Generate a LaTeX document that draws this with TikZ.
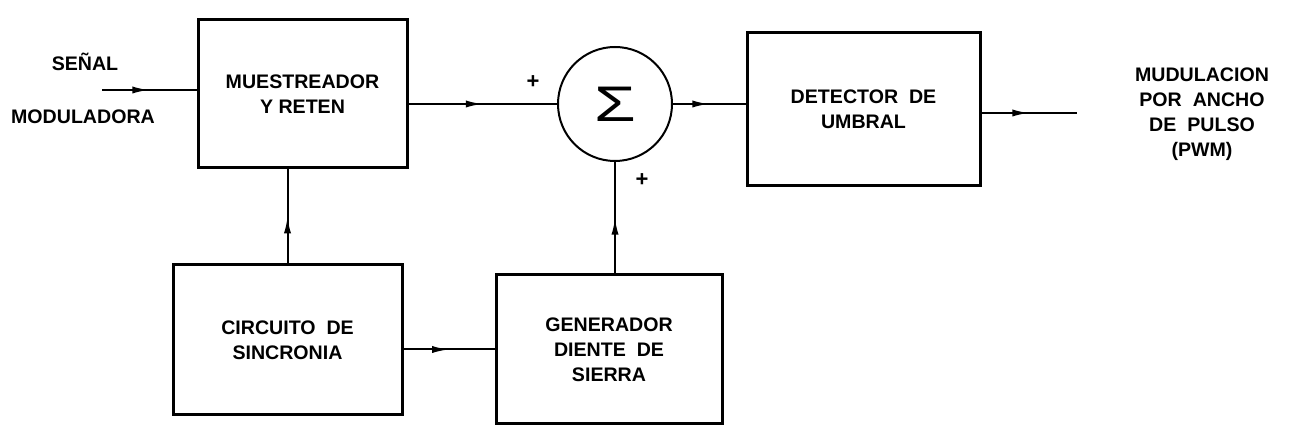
\documentclass[tikz,border=0pt]{standalone}
\usepackage{fontspec}
\setmainfont{Liberation Sans}
\usetikzlibrary{arrows.meta,decorations.markings}

\begin{document}
\begin{tikzpicture}[x=0.5pt, y=-0.5pt,
    bloque/.style={draw, line width=1.5pt, align=center, inner sep=0pt, font=\fontsize{9.8}{12.5}\selectfont\bfseries},
    flecha/.style={line width=1pt, postaction={decorate},
      decoration={markings, mark=at position 0.5 with {\arrow{Latex[length=8.5pt,width=3.6pt]}}}},
    etiq/.style={align=center, font=\fontsize{9.8}{12.5}\selectfont\bfseries},
    signo/.style={font=\fontsize{11}{12}\selectfont\bfseries}]
    \useasboundingbox (0,0) rectangle (1289,431);

    % bloques
    \node[bloque, minimum width=104.5pt, minimum height=74pt] (mues) at (302.5,94) {MUESTREADOR\\Y RETEN};
    \node[bloque, minimum width=116.5pt, minimum height=76.5pt] (det) at (863.5,109.5) {DETECTOR\ \ DE\\UMBRAL};
    \node[bloque, minimum width=114.5pt, minimum height=75pt] (circ) at (287.5,340) {CIRCUITO\ \ DE\\SINCRONIA};
    \node[bloque, minimum width=113pt, minimum height=74.5pt] (gen) at (609,349.5) {GENERADOR\\DIENTE\ \ DE\\SIERRA};
    \node[draw, circle, line width=1pt, minimum size=57pt, inner sep=0pt] (sum) at (615,104)
      {\fontsize{25}{25}\selectfont\scalebox{1.35}[1]{Σ}};

    % textos
    \node[etiq] (senal) at (85,62) {SEÑAL};
    \node[etiq] (moduladora) at (83,117) {MODULADORA};
    \node[etiq] (pwm) at (1202,114) {MUDULACION\\POR\ \ ANCHO\\DE\ \ PULSO\\(PWM)};
    \node[signo] (mas1) at (533,82) {+};
    \node[signo] (mas2) at (642,180) {+};

    % conexiones
    \coordinate (ent) at (102,90);
    \coordinate (sal) at (1077,113);
    \draw[flecha] (ent) -- (ent -| mues.west);
    \draw[flecha] (mues.east |- sum.west) -- (sum.west);
    \draw[flecha] (sum.east) -- (sum.east -| det.west);
    \draw[flecha] (det.east |- sal) -- (sal);
    \draw[flecha] (circ.north) -- (circ.north |- mues.south);
    \draw[flecha] (circ.east |- gen.west) -- (gen.west);
    \draw[flecha] (sum.south |- gen.north) -- (sum.south);
\end{tikzpicture}
\end{document}
